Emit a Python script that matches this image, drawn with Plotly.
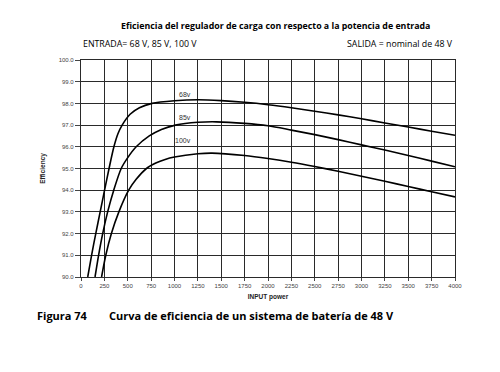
import plotly.graph_objects as go

# Data
x_68 = [72, 113, 158, 205, 252, 300, 352, 395, 440, 525, 625, 760, 1000,
        1250, 1500, 1750, 2000, 2250, 2500, 2750, 3000, 3250, 3500, 3750, 4000]
y_68 = [90.0, 91.0, 92.0, 93.0, 94.0, 95.0, 96.0, 96.6, 97.0, 97.5, 97.8, 98.0, 98.12,
        98.17, 98.13, 98.05, 97.94, 97.8, 97.64, 97.47, 97.29, 97.1, 96.91, 96.72, 96.53]

x_85 = [150, 188, 232, 285, 350, 430, 500, 590, 730, 860, 1010, 1250, 1450,
        1750, 2000, 2250, 2500, 2750, 3000, 3250, 3500, 3750, 4000]
y_85 = [90.0, 91.0, 92.0, 93.0, 94.0, 95.0, 95.5, 96.0, 96.5, 96.8, 97.0, 97.13, 97.15,
        97.08, 96.97, 96.77, 96.56, 96.33, 96.09, 95.85, 95.6, 95.34, 95.08]

x_100 = [220, 265, 325, 405, 510, 590, 700, 800, 900, 1000, 1250, 1400,
         1750, 2000, 2250, 2500, 2750, 3000, 3250, 3500, 3750, 4000]
y_100 = [90.0, 91.0, 92.0, 93.0, 94.0, 94.5, 95.0, 95.25, 95.42, 95.53, 95.68, 95.71,
         95.6, 95.46, 95.29, 95.09, 94.87, 94.64, 94.41, 94.17, 93.93, 93.69]

series_labels = ["68v", "85v", "100v"]
label_x = [1110, 1110, 1090]
label_y = [98.42, 97.36, 96.3]

x_ticks = list(range(0, 4001, 250))
y_ticks = [90.0 + i for i in range(11)]

fig = go.Figure()

for xs, ys in [(x_68, y_68), (x_85, y_85), (x_100, y_100)]:
    fig.add_trace(go.Scatter(x=xs, y=ys, mode="lines",
                             line=dict(color="black", width=1.6, shape="spline", smoothing=0.8),
                             showlegend=False, hoverinfo="skip"))

for t, lx, ly in zip(series_labels, label_x, label_y):
    fig.add_annotation(x=lx, y=ly, text=t, showarrow=False, xref="x", yref="y",
                       font=dict(family="Arial, Liberation Sans", size=7, color="#333"))

axis_common = dict(showgrid=True, gridcolor="#2a2a2a", gridwidth=1.4,
                   showline=True, linecolor="#2a2a2a", linewidth=1.2, mirror=True,
                   ticks="outside", tickcolor="#444", zeroline=False, automargin=False,
                   tickfont=dict(family="Arial, Liberation Sans", size=6, color="#444"))

fig.update_xaxes(range=[0, 4000], tickmode="array", tickvals=x_ticks,
                 ticktext=[str(v) for v in x_ticks], ticklen=3,
                 title=dict(text="<b>INPUT power</b>", standoff=6,
                            font=dict(family="Arial, Liberation Sans", size=6.5, color="#222")),
                 **axis_common)
fig.update_yaxes(range=[90, 100], tickmode="array", tickvals=y_ticks,
                 ticktext=[f"{v:.1f}" for v in y_ticks], ticklen=5,
                 title=dict(text="<b>Efficiency</b>", standoff=12,
                            font=dict(family="Arial, Liberation Sans", size=6.5, color="#222")),
                 **axis_common)

fig.add_annotation(text="<b>Eficiencia del regulador de carga con respecto a la potencia de entrada</b>",
                   xref="paper", yref="paper", x=0.52, y=1.0, yshift=26, yanchor="bottom",
                   showarrow=False, font=dict(family="Open Sans", size=8.8, color="black"))
fig.add_annotation(text="ENTRADA= 68 V, 85 V, 100 V", xref="paper", yref="paper",
                   x=0, y=1.0, yshift=8, xanchor="left", yanchor="bottom", showarrow=False,
                   font=dict(family="Open Sans", size=8.8, color="black"))
fig.add_annotation(text="SALIDA = nominal de 48 V", xref="paper", yref="paper",
                   x=1.0, y=1.0, yshift=8, xanchor="right", yanchor="bottom", showarrow=False,
                   font=dict(family="Open Sans", size=8.8, color="black"))
fig.add_annotation(text="<b>Figura 74</b>", xref="paper", yref="paper",
                   x=-0.122, y=0, yshift=-48, xanchor="left", showarrow=False,
                   font=dict(family="Open Sans", size=11, color="black"))
fig.add_annotation(text="<b>Curva de eficiencia de un sistema de batería de 48 V</b>",
                   xref="paper", yref="paper",
                   x=0.07, y=0, yshift=-48, xanchor="left", showarrow=False,
                   font=dict(family="Open Sans", size=11, color="black"))

# page body has an 8px default margin, so the plot area is offset accordingly
fig.update_layout(template="none", width=500, height=372, plot_bgcolor="white",
                  paper_bgcolor="white", margin=dict(l=73, r=53, t=52, b=103))

fig.write_html("out.html")
